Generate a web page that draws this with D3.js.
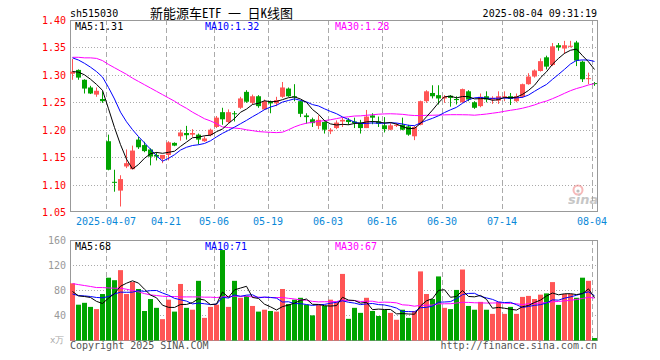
<!DOCTYPE html>
<html>
<head>
<meta charset="utf-8">
<script src="https://cdn.jsdelivr.net/npm/d3@7.9.0/dist/d3.min.js"></script>
<style>
  body { margin: 0; background: #fff; }
  svg { display: block; font-family: "DejaVu Sans Mono", monospace; font-size: 10px; }
</style>
</head>
<body>
<svg id="chart" width="660" height="360"></svg>
<script>
// trading days shown (2025)
const days = [
  '03-27','03-28','03-31',
  '04-01','04-02','04-03','04-07','04-08','04-09','04-10','04-11','04-14','04-15','04-16','04-17','04-18',
  '04-21','04-22','04-23','04-24','04-25','04-28','04-29','04-30',
  '05-06','05-07','05-08','05-09','05-12','05-13','05-14','05-15','05-16','05-19','05-20','05-21','05-22','05-23',
  '05-26','05-27','05-28','05-29','05-30',
  '06-03','06-04','06-05','06-06','06-09','06-10','06-11','06-12','06-13','06-16','06-17','06-18','06-19','06-20',
  '06-23','06-24','06-25','06-26','06-27','06-30',
  '07-01','07-02','07-03','07-04','07-07','07-08','07-09','07-10','07-11','07-14','07-15','07-16','07-17','07-18',
  '07-21','07-22','07-23','07-24','07-25','07-28','07-29','07-30','07-31',
  '08-01','08-04'
];

const open = [
  1.302,1.309,1.291,1.277,1.264,1.256,1.179,1.105,1.089,1.133,1.128,1.182,1.172,1.164,1.154,1.147,
  1.154,1.176,1.188,1.194,1.191,1.191,1.179,1.190,1.205,1.232,1.214,1.230,1.240,1.269,1.249,1.261,
  1.237,1.251,1.248,1.260,1.275,1.261,1.252,1.226,1.219,1.207,1.214,1.197,1.203,1.215,1.218,1.215,
  1.213,1.203,1.226,1.215,1.208,1.200,1.207,1.209,1.206,1.188,1.209,1.252,1.267,1.263,1.257,1.262,
  1.256,1.250,1.270,1.250,1.243,1.261,1.255,1.253,1.259,1.261,1.252,1.260,1.283,1.297,1.307,1.332,
  1.318,1.354,1.348,1.352,1.359,1.324,1.293,1.285
];
const high = [
  1.329,1.310,1.292,1.280,1.277,1.270,1.191,1.127,1.117,1.164,1.171,1.187,1.178,1.166,1.159,1.154,
  1.179,1.177,1.200,1.207,1.201,1.193,1.188,1.202,1.225,1.240,1.237,1.234,1.260,1.272,1.264,1.263,
  1.255,1.253,1.260,1.287,1.277,1.283,1.253,1.230,1.222,1.226,1.215,1.203,1.217,1.222,1.221,1.222,
  1.218,1.236,1.230,1.224,1.223,1.212,1.212,1.222,1.209,1.207,1.253,1.272,1.281,1.281,1.263,1.263,
  1.261,1.275,1.272,1.252,1.266,1.270,1.261,1.270,1.270,1.267,1.266,1.284,1.303,1.310,1.330,1.335,
  1.358,1.358,1.362,1.362,1.362,1.326,1.304,1.287
];
const low = [
  1.291,1.291,1.266,1.265,1.260,1.249,1.126,1.087,1.060,1.130,1.128,1.165,1.159,1.135,1.144,1.139,
  1.144,1.170,1.180,1.182,1.187,1.173,1.178,1.188,1.203,1.209,1.212,1.215,1.238,1.249,1.246,1.240,
  1.236,1.230,1.243,1.258,1.260,1.252,1.223,1.211,1.205,1.201,1.193,1.192,1.201,1.205,1.209,1.203,
  1.193,1.203,1.210,1.205,1.195,1.199,1.205,1.199,1.189,1.181,1.208,1.249,1.257,1.246,1.249,1.242,
  1.246,1.249,1.252,1.238,1.241,1.250,1.247,1.247,1.252,1.245,1.250,1.258,1.282,1.295,1.306,1.310,
  1.316,1.344,1.338,1.350,1.316,1.287,1.283,1.280
];
const close = [
  1.306,1.295,1.275,1.266,1.271,1.252,1.127,1.104,1.110,1.139,1.162,1.168,1.161,1.151,1.151,1.154,
  1.177,1.171,1.195,1.190,1.194,1.182,1.184,1.200,1.222,1.219,1.232,1.229,1.257,1.251,1.261,1.243,
  1.252,1.248,1.254,1.277,1.261,1.259,1.229,1.223,1.212,1.218,1.200,1.200,1.213,1.218,1.214,1.212,
  1.203,1.224,1.222,1.211,1.201,1.208,1.209,1.200,1.191,1.205,1.252,1.270,1.261,1.257,1.260,1.258,
  1.254,1.274,1.255,1.240,1.260,1.255,1.258,1.261,1.261,1.256,1.261,1.283,1.297,1.308,1.325,1.315,
  1.352,1.350,1.354,1.353,1.326,1.292,1.294,1.284
];
// volume, 万手
const volume = [
  91,57,60,53.5,50,74,100,96,112,74,93,82,47,66,52,34,
  65,46,90,52,49,95,36,53.5,57,144,53.5,95,68,71,55,46,
  49,47,46,82,58,65,68,57,40,57,55,65,61,106,34.5,52,
  44,68,47,39,49,44,33,49,36,47,110,74,66,102,52,50,
  80.5,113,55,49,61.5,49,42.4,61.5,42.4,53.5,42.4,69.4,71,66,73,75,
  93,56.7,74,74,68,100,95,4
];

// moving averages before the window is full (history not shown)
const ma5Head = [1.306,1.305,1.300,1.292];
const ma10Head = [1.331,1.327,1.321,1.314,1.306,1.296,1.277,1.256,1.232];
const ma30Head = [
  1.332,1.332,1.331,1.331,1.330,1.326,1.319,1.313,1.307,1.301,1.294,1.288,1.282,1.276,1.270,
  1.264,1.258,1.252,1.245,1.239,1.232,1.226,1.220,1.216,1.211,1.205,1.204,1.203,1.202
];
const volMa5Head = [78,71,70,68.5];
const volMa10Head = [74,71.5,71,70,68.5,68,70,74,77];
const volMa30Head = [
  90.6,89,87.5,86,84.3,84.3,83.7,83.2,83.2,81.6,79.5,77.4,74.7,72.6,71.6,
  70.5,70,70,69.4,69.4,69.4,69.4,69,69,68.4,69.4,70,70.5,70.5
];

const tickDays = ['04-07','04-21','05-06','05-19','06-03','06-16','06-30','07-14','08-04'];
const priceTicks = [1.05,1.10,1.15,1.20,1.25,1.30,1.35,1.40];
const volTicks = [40,80,120,160];

const upColor = '#ff5555';
const downColor = '#00a400';
const gridColor = '#aaa';
const maColors = ['#000', '#0000ff', '#ff00ff'];

function movingAvg(values, n, head) {
  return values.map((v, i) => i < n - 1 ? head[i] : d3.mean(values.slice(i - n + 1, i + 1)));
}

const svg = d3.select('#chart');

const x = d3.scaleBand().domain(days).range([70, 598]);
const y = d3.scaleLinear().domain([1.05, 1.40]).range([212, 20]);
const yv = d3.scaleLinear().domain([0, 160]).range([340.5, 240]);
const cx = (i) => x(days[i]) + 2.5;

// header
svg.append('text').attr('x', 70).attr('y', 16.5).text('sh515030');
svg.append('text').attr('x', 150).attr('y', 17.5)
  .style('font-family', '"Noto Sans Mono CJK SC", "Noto Sans CJK SC", sans-serif').style('font-size', '13px')
  .attr('xml:space', 'preserve')
  .text('新能源车ETF 一 日K线图');
svg.append('text').attr('x', 597).attr('y', 16.5).attr('text-anchor', 'end').text('2025-08-04 09:31:19');

// grids
function panelGrid(ticks, scale, y0, y1) {
  ticks.forEach((t) => {
    const yy = Math.round(scale(t)) + 0.5;
    if (yy <= y0 + 1 || yy >= y1 - 1) return;
    svg.append('line').attr('x1', 70).attr('x2', 597).attr('y1', yy).attr('y2', yy)
      .attr('stroke', gridColor).attr('stroke-dasharray', '1,2');
  });
  tickDays.forEach((d) => {
    const xx = x(d) + 0.5;
    svg.append('line').attr('x1', xx).attr('x2', xx).attr('y1', y0).attr('y2', y1)
      .attr('stroke', gridColor).attr('stroke-dasharray', '5,3');
  });
  svg.append('rect').attr('x', 70.5).attr('y', y0 + 0.5).attr('width', 527).attr('height', y1 - y0 - 1)
    .attr('fill', 'none').attr('stroke', '#999');
}
panelGrid(priceTicks, y, 20, 212);
panelGrid(volTicks, yv, 240, 341);

// axis labels
priceTicks.forEach((t) => {
  svg.append('text').attr('x', 66).attr('y', y(t) + 4).attr('text-anchor', 'end')
    .attr('fill', '#f00').text(t.toFixed(2));
});
volTicks.forEach((t) => {
  svg.append('text').attr('x', 66).attr('y', yv(t) + 4).attr('text-anchor', 'end')
    .attr('fill', '#999').text(t);
});
svg.append('text').attr('x', 50).attr('y', 343).attr('fill', '#aaa').style('font-size', '9px').text('x万');

// date labels
tickDays.forEach((d, k) => {
  svg.append('text').attr('x', x(d)).attr('y', 224.5).attr('text-anchor', 'middle')
    .attr('fill', '#0a88d8').text(k === 0 ? '2025-' + d : d);
});

// watermark
const wm = svg.append('g').attr('opacity', 0.55);
wm.append('circle').attr('cx', 578).attr('cy', 190).attr('r', 4.5)
  .attr('fill', 'none').attr('stroke', '#f08080').attr('stroke-width', 2);
wm.append('circle').attr('cx', 578).attr('cy', 191).attr('r', 1.6).attr('fill', '#888');
wm.append('text').attr('x', 568).attr('y', 204).style('font-family', '"DejaVu Sans", sans-serif')
  .style('font-size', '13px').style('font-weight', 'bold').style('font-style', 'italic')
  .attr('fill', '#999').text('sina');

// candles
const candles = svg.append('g');
days.forEach((d, i) => {
  const up = close[i] >= open[i];
  const col = up ? upColor : downColor;
  candles.append('line').attr('x1', cx(i)).attr('x2', cx(i))
    .attr('y1', y(high[i])).attr('y2', y(low[i])).attr('stroke', col);
  const top = y(Math.max(open[i], close[i]));
  const h = Math.max(1, Math.abs(y(open[i]) - y(close[i])));
  candles.append('rect').attr('x', x(d)).attr('y', top).attr('width', 5).attr('height', h).attr('fill', col);
});

// volume bars
days.forEach((d, i) => {
  const col = close[i] >= open[i] ? upColor : downColor;
  svg.append('rect').attr('x', x(d)).attr('y', yv(volume[i]))
    .attr('width', 5).attr('height', yv(0) - yv(volume[i])).attr('fill', col);
});

// moving average lines
const priceMa = [movingAvg(close, 5, ma5Head), movingAvg(close, 10, ma10Head), movingAvg(close, 30, ma30Head)];
const volMa = [movingAvg(volume, 5, volMa5Head), movingAvg(volume, 10, volMa10Head), movingAvg(volume, 30, volMa30Head)];

[2, 1, 0].forEach((k) => {
  svg.append('path').attr('fill', 'none').attr('stroke', maColors[k]).attr('stroke-width', 1)
    .attr('d', d3.line().x((v, i) => cx(i)).y((v) => y(v))(priceMa[k]));
  svg.append('path').attr('fill', 'none').attr('stroke', maColors[k]).attr('stroke-width', 1)
    .attr('d', d3.line().x((v, i) => cx(i)).y((v) => yv(v))(volMa[k]));
});

// ma legends
const names = ['MA5', 'MA10', 'MA30'];
const legendX = [75, 205, 335];
names.forEach((n, k) => {
  const last = priceMa[k][priceMa[k].length - 1];
  svg.append('text').attr('x', legendX[k]).attr('y', 29.5).attr('fill', maColors[k])
    .text(n + ':' + last.toFixed(2));
  const lastV = volMa[k][volMa[k].length - 1];
  svg.append('text').attr('x', legendX[k]).attr('y', 250).attr('fill', maColors[k])
    .text(n + ':' + Math.round(lastV));
});

// footer
svg.append('text').attr('x', 70).attr('y', 348.5).attr('fill', '#555').text('Copyright 2025 SINA.COM');
svg.append('text').attr('x', 597).attr('y', 348.5).attr('text-anchor', 'end').attr('fill', '#555')
  .text('http://finance.sina.com.cn');
</script>
</body>
</html>
